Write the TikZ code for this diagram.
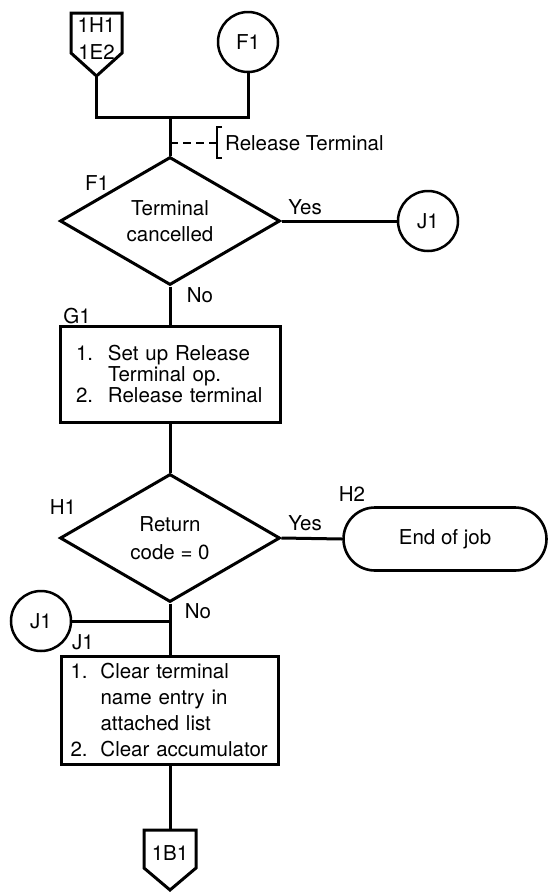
\documentclass[tikz,border=0pt]{standalone}
\usepackage{fontspec}
\setmainfont{TeX Gyre Heros}
\usetikzlibrary{shapes.geometric,shapes.misc}
\begin{document}
\begin{tikzpicture}[x=1pt,y=-1pt,
  flow/.style={line width=3pt, line join=miter},
  txt/.style={font=\fontsize{20.5}{21}\selectfont, inner sep=0pt},
  decision/.style={diamond, draw, line width=3pt, minimum width=220pt,
    minimum height=128pt, inner sep=0pt, align=center,
    font=\fontsize{20.5}{26}\selectfont},
  onpage/.style={circle, draw, line width=2.5pt, minimum size=60pt,
    inner sep=0pt, font=\fontsize{20.5}{21}\selectfont},
  process/.style={rectangle, draw, line width=3pt, inner ysep=0pt,
    align=left},
  terminal/.style={rounded rectangle, draw, line width=2.6pt,
    minimum width=203pt, minimum height=63pt, inner sep=0pt,
    font=\fontsize{20.5}{21}\selectfont}
]
\useasboundingbox (0,0) rectangle (549,892);

% entry off-page connector
\draw[flow] (71,13) -- (122,13) -- (122,53) -- (96.5,76) -- (71,53) -- cycle;
\coordinate (offA) at (96.5,76);
\node[txt] (offAt1) at (96.5,25) {1H1};
\node[txt] (offAt2) at (96.5,52) {1E2};

% entry on-page connector
\node[onpage] (cF1) at (248,42) {F1};

\coordinate (join) at (170,117);
\draw[flow] (offA) |- (join);
\draw[flow] (cF1.south) |- (join);

% decision F1
\node[decision] (dF1) at (170,221) {Terminal\\cancelled};
\node[txt] (lF1) at (97,183) {F1};
\draw[flow] (join) -- (dF1.north);

% annotation
\coordinate (ann) at (170,143);
\coordinate (brk) at (217,143);
\draw[line width=2.2pt, dash pattern=on 8pt off 5pt] (ann) -- (brk);
\draw[line width=2.2pt] (222,127) -- (217,127) -- (217,158) -- (222,158);
\node[txt, anchor=west] (annt) at (225,143) {Release Terminal};

% branch to J1
\node[onpage] (cJ1a) at (428,221) {J1};
\draw[flow] (dF1.east) -- (cJ1a.west);
\node[txt] (yes1) at (305,207) {Yes};
\node[txt] (no1) at (200,295) {No};

% process G1
\node[process, minimum width=220pt, minimum height=96pt, inner xsep=16pt,
  text width=188pt, font=\fontsize{20.5}{21}\selectfont] (bG1) at (170,374)
  {\makebox[32pt][l]{1.}Set up Release\\
   \hspace*{32pt}Terminal op.\\
   \makebox[32pt][l]{2.}Release terminal};
\node[txt] (lG1) at (77,316) {G1};
\draw[flow] (dF1.south) -- (bG1.north);

% decision H1
\node[decision, font=\fontsize{20.5}{28}\selectfont] (dH1) at (170,538) {Return\\code = 0};
\node[txt] (lH1) at (63,507) {H1};
\draw[flow] (bG1.south) -- (dH1.north);

% terminal H2
\node[terminal] (tH2) at (445,539) {End of job};
\node[txt] (lH2) at (352,494) {H2};
\draw[flow] (dH1.east) -- (tH2.west);
\node[txt] (yes2) at (305,523) {Yes};
\node[txt] (no2) at (198,611) {No};

% incoming J1
\node[onpage] (cJ1b) at (41,621) {J1};
\coordinate (merge) at (170,621);
\draw[flow] (cJ1b.east) -- (merge);

% process J1
\node[process, minimum width=217pt, minimum height=108pt, inner xsep=9pt,
  text width=199pt, font=\fontsize{20.5}{25.7}\selectfont] (bJ1) at (170,710)
  {\makebox[30pt][l]{1.}Clear terminal\\
   \hspace*{30pt}name entry in\\
   \hspace*{30pt}attached list\\
   \makebox[30pt][l]{2.}Clear accumulator};
\node[txt] (lJ1) at (83,642) {J1};
\draw[flow] (dH1.south) -- (bJ1.north);

% exit off-page connector
\draw[flow] (144,830) -- (196,830) -- (196,868) -- (170,890) -- (144,868) -- cycle;
\coordinate (offB) at (170,830);
\node[txt] (offBt) at (170,853) {1B1};
\draw[flow] (bJ1.south) -- (offB);
\end{tikzpicture}
\end{document}
